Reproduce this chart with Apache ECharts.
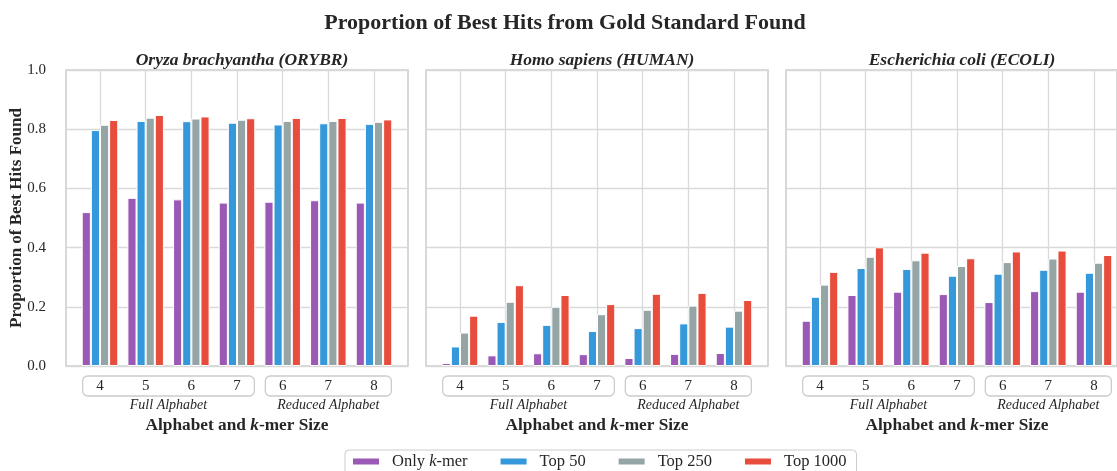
<!DOCTYPE html>
<html>
<head>
<meta charset="utf-8">
<script src="https://cdn.jsdelivr.net/npm/echarts@6/dist/echarts.min.js"></script>
<style>
  html, body { margin: 0; padding: 0; background: #fff; }
  #chart { width: 1117px; height: 471px; }
</style>
</head>
<body>
<div id="chart"></div>
<script>
// Tick labels (k-mer sizes) along each panel's x axis
const kmerSizes = ['4', '5', '6', '7', '6', '7', '8'];
// Alphabet groups and the k-mer index ranges they cover
const alphabetGroups = ['Full Alphabet', 'Reduced Alphabet'];
const alphabetSpans = [[0, 3], [4, 6]];

const speciesTitles = ['Oryza brachyantha (ORYBR)', 'Homo sapiens (HUMAN)', 'Escherichia coli (ECOLI)'];
const seriesNames = ['Only k-mer', 'Top 50', 'Top 250', 'Top 1000'];

// Oryza brachyantha
const orybrOnlyKmer = [0.520, 0.568, 0.563, 0.552, 0.555, 0.560, 0.552];
const orybrTop50    = [0.797, 0.828, 0.827, 0.822, 0.816, 0.820, 0.818];
const orybrTop250   = [0.815, 0.839, 0.836, 0.832, 0.828, 0.828, 0.825];
const orybrTop1000  = [0.831, 0.848, 0.843, 0.837, 0.838, 0.838, 0.833];

// Homo sapiens
const humanOnlyKmer = [0.010, 0.036, 0.043, 0.040, 0.027, 0.041, 0.044];
const humanTop50    = [0.066, 0.149, 0.139, 0.118, 0.128, 0.144, 0.133];
const humanTop250   = [0.113, 0.217, 0.200, 0.175, 0.190, 0.204, 0.187];
const humanTop1000  = [0.170, 0.273, 0.240, 0.209, 0.244, 0.247, 0.223];

// Escherichia coli
const ecoliOnlyKmer = [0.153, 0.240, 0.251, 0.243, 0.216, 0.253, 0.251];
const ecoliTop50    = [0.234, 0.331, 0.328, 0.305, 0.312, 0.325, 0.315];
const ecoliTop250   = [0.275, 0.369, 0.357, 0.338, 0.351, 0.363, 0.349];
const ecoliTop1000  = [0.318, 0.401, 0.383, 0.364, 0.387, 0.390, 0.375];

const panelData = [
  [orybrOnlyKmer, orybrTop50, orybrTop250, orybrTop1000],
  [humanOnlyKmer, humanTop50, humanTop250, humanTop1000],
  [ecoliOnlyKmer, ecoliTop50, ecoliTop250, ecoliTop1000]
];

const colors = ['#9b59b6', '#3498db', '#95a5a6', '#e74c3c'];
const FONT = 'Liberation Serif';
const TEXT = '#262626';
const GRID_LINE = '#d9d9d9';

// Panel geometry
const panelLeft = [66, 426, 786];
const panelWidth = 342;
const panelTop = 70;
const panelHeight = 296;
const catInset = 34; // distance from frame edge to the first / last category

const grids = [], xAxes = [], yAxes = [], series = [], titles = [];

titles.push({
  text: 'Proportion of Best Hits from Gold Standard Found',
  left: 560, top: 7, textAlign: 'center',
  textStyle: { fontFamily: FONT, fontSize: 22, fontWeight: 'bold', color: TEXT }
});

const categoryKeys = kmerSizes.map((k, i) => (i < 4 ? 'F' : 'R') + k);

for (let p = 0; p < 3; p++) {
  const L = panelLeft[p];
  // frame grid: border and horizontal grid lines
  grids.push({ left: L, top: panelTop, width: panelWidth, height: panelHeight,
    show: true, borderColor: '#cccccc', borderWidth: 1.5, backgroundColor: 'transparent' });
  // data grid: category centres span the inner width
  grids.push({ left: L + catInset, top: panelTop, width: panelWidth - 2 * catInset, height: panelHeight });

  xAxes.push({ gridIndex: 2 * p, type: 'value', min: 0, max: 1, show: false });
  yAxes.push({
    gridIndex: 2 * p, type: 'value', min: 0, max: 1, interval: 0.2,
    axisLine: { show: false }, axisTick: { show: false },
    splitLine: { show: true, lineStyle: { color: GRID_LINE, width: 1.3 } },
    axisLabel: { show: p === 0, margin: 20, fontFamily: FONT, fontSize: 15, color: TEXT,
      formatter: v => v.toFixed(1) }
  });

  xAxes.push({
    gridIndex: 2 * p + 1, type: 'category', data: categoryKeys, boundaryGap: false,
    axisLine: { show: false }, axisTick: { show: false },
    axisLabel: { margin: 13, fontFamily: FONT, fontSize: 15, color: TEXT,
      formatter: (v, i) => kmerSizes[i] },
    splitLine: { show: true, lineStyle: { color: GRID_LINE, width: 1.3 } }
  });
  yAxes.push({ gridIndex: 2 * p + 1, type: 'value', min: 0, max: 1, show: false,
    splitLine: { show: false } });

  for (let s = 0; s < 4; s++) {
    series.push({
      type: 'bar', name: seriesNames[s],
      xAxisIndex: 2 * p + 1, yAxisIndex: 2 * p + 1,
      data: panelData[p][s],
      barGap: '0%', barCategoryGap: '20%', clip: false,
      itemStyle: { color: colors[s], borderColor: '#ffffff', borderWidth: 1 }
    });
  }

  titles.push({
    text: speciesTitles[p],
    left: L + panelWidth / 2, top: 46, textAlign: 'center',
    textStyle: { fontFamily: FONT, fontSize: 17.5, fontWeight: 'bold', fontStyle: 'italic', color: TEXT }
  });
}

const chart = echarts.init(document.getElementById('chart'), null, { renderer: 'canvas' });
chart.setOption({
  animation: false,
  backgroundColor: '#ffffff',
  color: colors,
  title: titles,
  grid: grids,
  xAxis: xAxes,
  yAxis: yAxes,
  series: series,
  legend: {
    data: seriesNames,
    left: 345, top: 450,
    icon: 'rect', itemWidth: 28, itemHeight: 8, itemGap: 31,
    borderColor: '#cccccc', borderWidth: 1, borderRadius: 4,
    padding: [3, 10, 6, 6],
    formatter: name => name === 'Only k-mer' ? '{n|Only }{i|k}{n|-mer}' : '{n|' + name + '}',
    textStyle: {
      fontFamily: FONT, fontSize: 16.5, color: TEXT, padding: [0, 0, 0, 7],
      rich: {
        n: { fontFamily: FONT, fontSize: 16.5, color: TEXT },
        i: { fontFamily: FONT, fontSize: 16.5, fontStyle: 'italic', color: TEXT }
      }
    }
  }
});

// Group boxes, group names and axis titles under each panel, placed from the category scale
const graphics = [];
const boxTop = 376, boxHeight = 20;
for (let p = 0; p < 3; p++) {
  const axisIdx = 2 * p + 1;
  const x0 = chart.convertToPixel({ xAxisIndex: axisIdx }, 0);
  const x1 = chart.convertToPixel({ xAxisIndex: axisIdx }, 1);
  const band = x1 - x0;
  alphabetSpans.forEach((span, g) => {
    const a = chart.convertToPixel({ xAxisIndex: axisIdx }, span[0]) - 0.38 * band;
    const b = chart.convertToPixel({ xAxisIndex: axisIdx }, span[1]) + 0.38 * band;
    graphics.push({
      type: 'rect', z: 0, silent: true,
      shape: { x: a, y: boxTop, width: b - a, height: boxHeight, r: 5 },
      style: { fill: 'none', stroke: '#cccccc', lineWidth: 1.3 }
    });
    graphics.push({
      type: 'text', silent: true, x: (a + b) / 2, y: 405,
      style: { text: alphabetGroups[g], fontFamily: FONT, fontSize: 14, fontStyle: 'italic',
        fill: TEXT, align: 'center', verticalAlign: 'middle' }
    });
  });
  graphics.push({
    type: 'text', silent: true, x: panelLeft[p] + panelWidth / 2, y: 426,
    style: {
      text: '{b|Alphabet and }{bi|k}{b|-mer Size}',
      align: 'center', verticalAlign: 'middle',
      rich: {
        b: { fontFamily: FONT, fontSize: 17.3, fontWeight: 'bold', fill: TEXT },
        bi: { fontFamily: FONT, fontSize: 17.3, fontWeight: 'bold', fontStyle: 'italic', fill: TEXT }
      }
    }
  });
}
// Shared y-axis title, drawn bottom-to-top beside the first panel
graphics.push({
  type: 'text', silent: true, x: 17, y: panelTop + panelHeight / 2, rotation: Math.PI / 2,
  style: { text: 'Proportion of Best Hits Found', fontFamily: FONT, fontSize: 17,
    fontWeight: 'bold', fill: TEXT, align: 'center', verticalAlign: 'middle' }
});
chart.setOption({ graphic: graphics });
</script>
</body>
</html>
